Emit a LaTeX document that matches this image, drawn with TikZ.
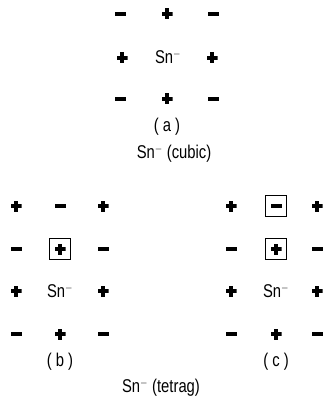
\documentclass[tikz,border=0pt]{standalone}
\usepackage{fontspec}
\setmainfont{Liberation Sans}
\newcommand{\nt}[1]{\scalebox{0.8}[1]{#1}}
\begin{document}
\begin{tikzpicture}[x=1pt,y=-1pt,
  pl/.style={minimum width=11pt,minimum height=11pt,inner sep=0pt,
    path picture={\fill[black] ([xshift=-1.7pt]path picture bounding box.north) rectangle ([xshift=1.7pt]path picture bounding box.south);
                  \fill[black] ([yshift=-1.7pt]path picture bounding box.west) rectangle ([yshift=1.7pt]path picture bounding box.east);}},
  mi/.style={minimum width=11pt,minimum height=3.3pt,inner sep=0pt,fill=black},
  bx/.style={draw,line width=0.6pt,minimum width=21pt,minimum height=21pt,inner sep=0pt},
  lab/.style={font=\fontsize{18.5}{20}\selectfont,inner sep=0pt}]
\useasboundingbox (0,0) rectangle (325,398);
% (a)
\node[mi] (a11) at (120,14) {};
\node[pl] (a12) at (167,14) {};
\node[mi] (a13) at (213,14) {};
\node[pl] (a21) at (122,58) {};
\node[lab] (a22) at (168,57) {\nt{Sn$^{-}$}};
\node[pl] (a23) at (212,58) {};
\node[mi] (a31) at (120,99) {};
\node[pl] (a32) at (167,99) {};
\node[mi] (a33) at (213,99) {};
\node[lab] (alab) at (167,127) {\nt{( a )}};
\node[lab] (acap) at (174,154) {\nt{Sn$^{-}$ (cubic)}};
% (b)
\node[pl] (b11) at (16,206) {};
\node[mi] (b12) at (60,206) {};
\node[pl] (b13) at (103,206) {};
\node[mi] (b21) at (16,249) {};
\node[bx] (b22box) at (60,249) {};
\node[pl] (b22) at (60,249) {};
\node[mi] (b23) at (103,249) {};
\node[pl] (b31) at (16,291) {};
\node[lab] (b32) at (60,291) {\nt{Sn$^{-}$}};
\node[pl] (b33) at (103,291) {};
\node[mi] (b41) at (16,334) {};
\node[pl] (b42) at (60,334) {};
\node[mi] (b43) at (103,334) {};
\node[lab] (blab) at (60,362) {\nt{( b )}};
% (c)
\node[pl] (c11) at (231,206) {};
\node[bx] (c12box) at (276,206) {};
\node[mi] (c12) at (276,206) {};
\node[pl] (c13) at (317,206) {};
\node[mi] (c21) at (231,249) {};
\node[bx] (c22box) at (276,249) {};
\node[pl] (c22) at (276,249) {};
\node[mi] (c23) at (317,249) {};
\node[pl] (c31) at (231,291) {};
\node[lab] (c32) at (276,291) {\nt{Sn$^{-}$}};
\node[pl] (c33) at (317,291) {};
\node[mi] (c41) at (231,334) {};
\node[pl] (c42) at (276,334) {};
\node[mi] (c43) at (317,334) {};
\node[lab] (clab) at (276,362) {\nt{( c )}};
\node[lab] (tcap) at (161,388) {\nt{Sn$^{-}$ (tetrag)}};
\end{tikzpicture}
\end{document}
